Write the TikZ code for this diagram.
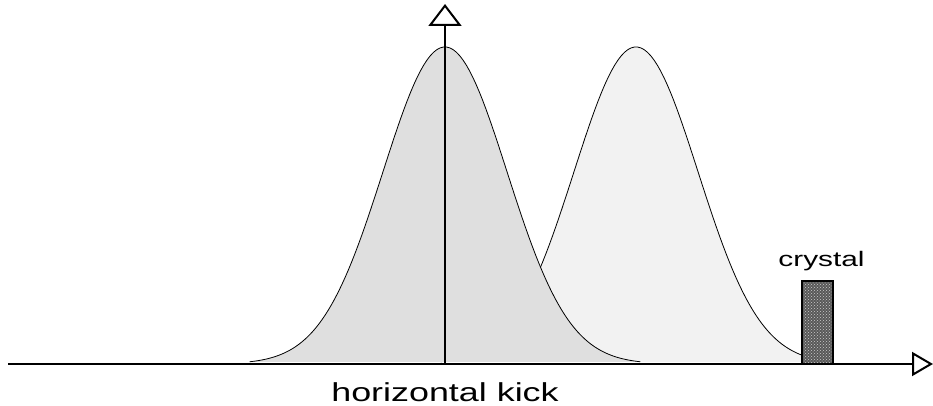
\documentclass[tikz,border=0pt]{standalone}
\usepackage{fontspec}
\setmainfont{Liberation Sans}
\usepackage{tikz}
\usetikzlibrary{arrows.meta, positioning, patterns}

\begin{document}
\begin{tikzpicture}[
    x=1pt, y=1pt,
    axis/.style={line width=2pt, black},
    yarr/.style={-{Triangle[open, length=22pt, width=33pt, line width=2pt]}},
    xarr/.style={-{Triangle[open, length=21pt, width=24pt, line width=2pt]}},
    curve/.style={line width=0.8pt, black},
    crystalbox/.style={rectangle, draw=black, line width=1.5pt,
                       minimum width=31pt, minimum height=83pt, inner sep=0pt,
                       preaction={fill=black!65}, pattern=crosshatch dots,
                       pattern color=black!20},
    lbl/.style={font=\fontsize{21}{24}\selectfont, inner sep=0pt}
]
\useasboundingbox (0,0) rectangle (933,406);

% Axes points
\coordinate (xstart) at (8,42);
\coordinate (xend)   at (933,42);
\coordinate (origin) at (445,42);
\coordinate (ytop)   at (445,402);

% Shifted distribution (behind)
\fill[black!5] plot[domain=-3.15:3.15, samples=120] ({636+62*\x},{42+317*exp(-\x*\x/2)}) -- cycle;
\draw[curve] plot[domain=-3.15:3.15, samples=120] ({636+62*\x},{42+317*exp(-\x*\x/2)});

% Centred distribution
\fill[black!12.5] plot[domain=-3.15:3.15, samples=120] ({445+62*\x},{42+317*exp(-\x*\x/2)}) -- cycle;
\draw[curve] plot[domain=-3.15:3.15, samples=120] ({445+62*\x},{42+317*exp(-\x*\x/2)});

% Crystal
\node[crystalbox] (crystal) at (817.5,83.5) {};
\node[lbl, anchor=base, above=9pt of crystal.north, xshift=4pt]
    (crystallbl) {\scalebox{1.42}[1]{crystal}};

% Axes
\draw[axis, xarr] (xstart) -- (xend);
\draw[axis, yarr] (origin) -- (ytop);

\node[lbl, font=\fontsize{26}{30}\selectfont, anchor=base] (kick) at (445,4)
    {\scalebox{1.38}[1]{horizontal kick}};

\end{tikzpicture}
\end{document}
